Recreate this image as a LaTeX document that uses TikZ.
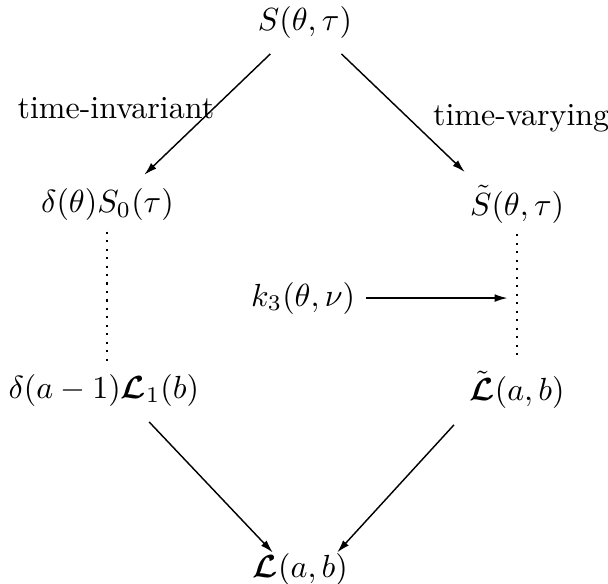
\documentclass[tikz,border=0pt]{standalone}
\usepackage{amsmath,amssymb}
\usepackage{bm}
\usetikzlibrary{arrows.meta,positioning,calc}

\tikzset{
  arr/.style={-{Latex[length=4pt,width=2.4pt]},line width=0.45pt,
              shorten <=2pt,shorten >=1pt},
  dotline/.style={dotted,line width=0.65pt},
  lbl/.style={inner sep=0pt,font=\normalsize}
}

\begin{document}
\begin{tikzpicture}
  \useasboundingbox (0,0) rectangle (6.678,6.414);
  % Nodes
  \node (S)   at (3.35,6.17) {$S(\theta,\tau)$};
  \node (inv) at (1.18,4.17) {$\delta(\theta)S_0(\tau)$};
  \node (var) at (5.68,4.17) {$\tilde{S}(\theta,\tau)$};
  \node (k)   at (3.33,3.14) {$k_3(\theta,\nu)$};
  \node (Linv) at (1.14,2.13) {$\delta(a-1)\bm{\mathcal{L}}_1(b)$};
  \node (Lvar) at (5.68,2.13) {$\tilde{\bm{\mathcal{L}}}(a,b)$};
  \node (L)   at (3.30,0.16) {$\bm{\mathcal{L}}(a,b)$};
  % Branches
  \draw[arr] ($(S.south)+(-0.33,0)$) -- ($(inv.north)+(0.38,0)$)
    node (tinv)[midway,lbl,anchor=base east,xshift=2pt,yshift=-1.5pt]
    {time-invariant};
  \draw[arr] ($(S.south)+(0.35,0)$) -- ($(var.north)+(-0.55,0)$)
    node (tvar)[midway,lbl,anchor=base west,xshift=9.5pt,yshift=-4.4pt]
    {time-varying};
  % Dotted columns
  \draw[dotline] (inv.south) -- (inv.south |- Linv.north);
  \draw[dotline] (var.south) -- (var.south |- Lvar.north);
  % Kernel
  \draw[arr,shorten <=0pt,shorten >=3pt] (k) -- (k -| var);
  % Merge
  \draw[arr] ($(Linv.south)+(0.45,0)$) -- ($(L.north)+(-0.28,-0.14)$);
  \draw[arr] (Lvar.south west) -- ($(L.north)+(0.38,-0.14)$);
\end{tikzpicture}
\end{document}
